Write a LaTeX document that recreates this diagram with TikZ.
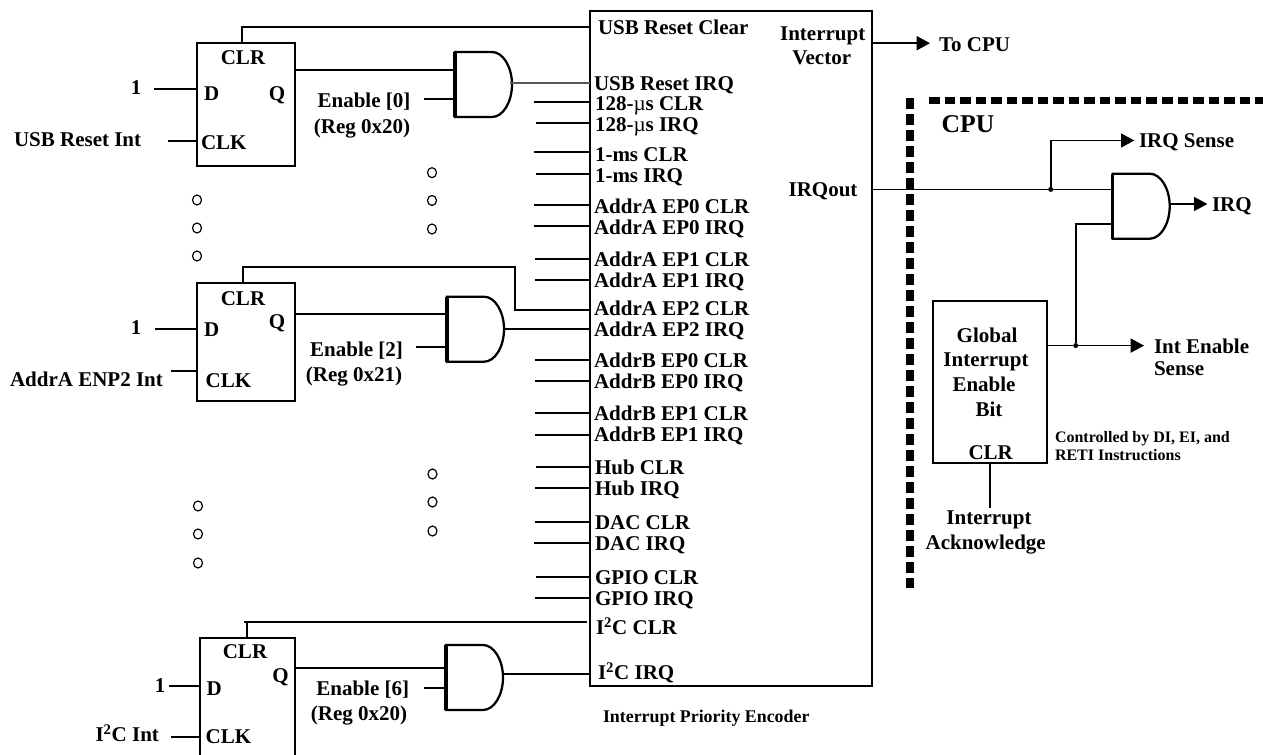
\documentclass[tikz,border=0pt]{standalone}
\usepackage{fontspec}
\setmainfont{Liberation Serif}
\usetikzlibrary{arrows.meta,calc,shapes.geometric}
\newdimen\px \px=.75pt
\newcommand{\andgate}[2]{% name, north-west corner; size 57 x 65
  \node[gatebox,anchor=north west] (#1) at #2 {};
  \draw[gateline] (#1.north west) -- ++(37,0)
    .. controls +(11,0) and +(0,-17.6) .. (#1.east)
    .. controls +(0,17.6) and +(11,0) .. ($(#1.south east)+(-20,0)$)
    -- (#1.south west) -- cycle;
  \draw[gatebar] (#1.north west) -- (#1.south west);
}
\tikzset{
  wire/.style={line width=1.5pt,black},
  thinwire/.style={line width=1.3pt,black},
  greywire/.style={line width=.9pt,black!65},
  arrowwire/.style={line width=1.3pt,black,-{Triangle[length=10pt,width=10.5pt]}},
  box/.style={draw=black,line width=1.5pt,inner sep=0,outer sep=0,anchor=north west},
  gatebox/.style={inner sep=0,outer sep=0,minimum width=57\px,minimum height=65\px},
  gateline/.style={draw=black,line width=1.7pt,line join=miter},
  gatebar/.style={draw=black,line width=2.4pt},
  txt/.style={inner sep=0,outer sep=0,text height=10.6pt,text depth=0pt,font=\bfseries\fontsize{15.75pt}{18pt}\selectfont},
  smalltxt/.style={inner sep=0,outer sep=0,text height=8.1pt,text depth=0pt,font=\bfseries\fontsize{12pt}{14pt}\selectfont},
  bigtxt/.style={inner sep=0,outer sep=0,text height=13pt,text depth=0pt,font=\bfseries\fontsize{19.2pt}{22pt}\selectfont},
  captxt/.style={inner sep=0,outer sep=0,text height=9.1pt,text depth=0pt,font=\bfseries\fontsize{13.4pt}{16pt}\selectfont},
  dotmark/.style={draw=black,line width=.9pt,fill=white,ellipse,inner sep=0,minimum width=9\px,minimum height=10\px},
  junction/.style={circle,fill=black,inner sep=0,minimum size=5\px},
  cpuvert/.style={line width=6pt,black,dash pattern=on 8pt off 4pt},
  cpuhoriz/.style={line width=5.25pt,black,dash pattern=on 7.9pt off 3.75pt},
}
\begin{document}
\begin{tikzpicture}[x=.75pt,y=-.75pt]
\clip (0,0) rectangle (1263,755);
\path[use as bounding box] (0,0) rectangle (1263,755);
\fill[white] (0,0) rectangle (1263,755);

% main encoder
\node[box,minimum width=282\px,minimum height=675\px] (main) at (590,11) {};

% flip-flops
\node[box,minimum width=98\px,minimum height=122.6\px] (ff1) at (197,43) {};
\node[box,minimum width=98\px,minimum height=118\px] (ff2) at (197,283) {};
\node[box,minimum width=95\px,minimum height=140\px] (ff3) at (199.7,637.7) {};

% AND gates
\andgate{and1}{(455,52)}
\andgate{and2}{(447,296.7)}
\andgate{and3}{(446,645)}
\andgate{and4}{(1112.7,173.7)}

% Global interrupt box
\node[box,minimum width=114.3\px,minimum height=162\px] (gie) at (932.7,301) {};

% encoder rows with free stubs
\foreach \nm/\lx/\ty/\sx/\wy/\lab in {
  a/595/103/534/101.7/128-{\mdseries µ}s CLR,
  b/595/124/536/122.7/128-{\mdseries µ}s IRQ,
  c/595/154/534/152/1-ms CLR,
  d/595/175/536/173.7/1-ms IRQ,
  e/594/206/534/204.7/AddrA EP0 CLR,
  f/594/227/534/225.7/AddrA EP0 IRQ,
  g/594/259/535/258.7/AddrA EP1 CLR,
  h/594/280/535/280/AddrA EP1 IRQ,
  i/594/360/535/360/AddrB EP0 CLR,
  j/594/381/535/381/AddrB EP0 IRQ,
  k/594/413/535/413/AddrB EP1 CLR,
  l/594/434/535/434.7/AddrB EP1 IRQ,
  m/595/467/536/467/Hub CLR,
  n/595/488/535/488/Hub IRQ,
  o/595/522/535/522/DAC CLR,
  p/595/543/534/543/DAC IRQ,
  q/595/577/536/577/GPIO CLR,
  r/595/598/535/598/GPIO IRQ}{
  \coordinate (stub\nm) at (\sx,\wy);
  \node[txt,anchor=west] (lab\nm) at (\lx,\ty) {\lab};
  \draw[wire] (stub\nm) -- (stub\nm -| main.west);
}
\node[txt,anchor=west] (labrc) at (598,27) {USB Reset Clear};
\node[txt,anchor=west] (labri) at (594,83) {USB Reset IRQ};
\node[txt,anchor=west] (labe2c) at (594,308) {AddrA EP2 CLR};
\node[txt,anchor=west] (labe2i) at (594,329) {AddrA EP2 IRQ};
\node[txt,anchor=west] (labi2c) at (596,627) {I\textsuperscript{2}C CLR};
\node[txt,anchor=west] (labi2i) at (598,672) {I\textsuperscript{2}C IRQ};
\node[txt] (intv1) at (822.7,33) {Interrupt};
\node[txt] (intv2) at (821.7,57) {Vector};
\node[txt] (irqout) at (823,189) {IRQout};
\node[captxt,anchor=west] (ipe) at (603,716) {Interrupt Priority Encoder};

% FF1 texts and wiring
\node[txt] (f1clr) at (243,57) {CLR};
\node[txt,anchor=west] (f1d) at (204,93) {D};
\node[txt] (f1q) at (277,93) {Q};
\node[txt,anchor=west] (f1clk) at (201,142) {CLK};
\node[txt] (one1) at (136,87) {1};
\node[txt,anchor=west] (usbint) at (14,139) {USB Reset Int};
\node[txt] (en0) at (364,100) {Enable [0]};
\node[txt] (rg0) at (362,126) {(Reg 0x20)};
\coordinate (d1) at (154,89);
\coordinate (k1) at (168,141);
\coordinate (e1) at (424,99.3);
\coordinate (c1) at (241.6,26.7);
\coordinate (q1) at (295,69.7);
\coordinate (o1) at (510,83);
\draw[wire] (d1) -- (d1 -| ff1.west);
\draw[wire] (k1) -- (k1 -| ff1.west);
\draw[wire] (e1) -- (e1 -| and1.west);
\draw[wire] (c1 |- ff1.north) -- (c1) -- (c1 -| main.west);
\draw[wire] (q1 -| ff1.east) -- (q1 -| and1.west);
\draw[greywire] (o1) -- (o1 -| main.west);

% FF2
\node[txt] (f2clr) at (243,298) {CLR};
\node[txt] (f2q) at (277,321.7) {Q};
\node[txt,anchor=west] (f2d) at (204,329) {D};
\node[txt,anchor=west] (f2clk) at (205.6,380) {CLK};
\node[txt] (one2) at (136,327) {1};
\node[txt,anchor=west] (ainT) at (10,379) {AddrA ENP2 Int};
\node[txt] (en2) at (356.6,349) {Enable [2]};
\node[txt] (rg2) at (354,374) {(Reg 0x21)};
\coordinate (d2) at (155,329);
\coordinate (k2) at (171,371.3);
\coordinate (e2) at (416,346.7);
\coordinate (c2a) at (242.8,267.3);
\coordinate (c2b) at (515,310);
\coordinate (q2) at (295,313.7);
\coordinate (o2) at (503,328.7);
\draw[wire] (d2) -- (d2 -| ff2.west);
\draw[wire] (k2) -- (k2 -| ff2.west);
\draw[wire] (e2) -- (e2 -| and2.west);
\draw[wire] (c2a |- ff2.north) -- (c2a) -- (c2a -| c2b) -- (c2b) -- (c2b -| main.west);
\draw[wire] (q2 -| ff2.east) -- (q2 -| and2.west);
\draw[wire] (o2) -- (o2 -| main.west);

% FF3
\node[txt] (f3clr) at (245,651.7) {CLR};
\node[txt] (f3q) at (280.5,675) {Q};
\node[txt,anchor=west] (f3d) at (206.6,688.7) {D};
\node[txt,anchor=west] (f3clk) at (205.7,736.7) {CLK};
\node[txt] (one3) at (160,685) {1};
\node[txt,anchor=west] (iint) at (95.5,734) {I\textsuperscript{2}C Int};
\node[txt] (en6) at (362.7,688) {Enable [6]};
\node[txt] (rg6) at (359,713) {(Reg 0x20)};
\coordinate (d3) at (169.4,685.7);
\coordinate (k3) at (171,737);
\coordinate (e3) at (424,687.7);
\coordinate (c3a) at (244,621.7);
\coordinate (c3b) at (247,621.7);
\coordinate (c3e) at (587,621.7);
\coordinate (q3) at (295,667.7);
\coordinate (o3) at (502,674);
\draw[wire] (d3) -- (d3 -| ff3.west);
\draw[wire] (k3) -- (k3 -| ff3.west);
\draw[wire] (e3) -- (e3 -| and3.west);
\draw[wire] (c3a) -- (c3e);
\draw[wire] (c3b) -- (c3b |- ff3.north);
\draw[wire] (q3 -| ff3.east) -- (q3 -| and3.west);
\draw[wire] (o3) -- (o3 -| main.west);

% ellipsis dots
\foreach \n/\x/\y in {a/197/200,b/197/228,c/197/256,d/432/172.7,e/432/200.5,f/432/229,g/432.5/474,h/432.5/502,i/432.5/531,j/198/506,k/198/534,l/198/563}{
  \node[dotmark] (dot\n) at (\x,\y) {};
}

% CPU boundary
\coordinate (cpuv1) at (910,98);
\coordinate (cpuv2) at (910,588);
\coordinate (cpuh1) at (929,100.7);
\coordinate (cpuh2) at (1270,100.7);
\draw[cpuvert] (cpuv1) -- (cpuv2);
\draw[cpuhoriz] (cpuh1) -- (cpuh2);
\node[bigtxt] (cpu) at (968,124) {CPU};

% right side
\node[txt,anchor=west] (tocpu) at (939,44) {To CPU};
\coordinate (tv) at (872,43.2);
\coordinate (tvend) at (930,43.2);
\draw[arrowwire] (tv) -- (tvend);

\coordinate (irqline) at (872,189.4);
\coordinate (jn1pos) at (1050.7,189.4);
\node[junction] (jn1) at (jn1pos) {};
\draw[thinwire] (irqline) -- (irqline -| and4.west);
\node[txt,anchor=west] (irqs) at (1139,140.5) {IRQ Sense};
\coordinate (irqsup) at (1050.7,140.5);
\draw[thinwire] (jn1) -- (irqsup);
\draw[arrowwire] (irqsup) -- ([xshift=-3.5pt]irqs.west);
\node[txt,anchor=west] (irq) at (1212,204.7) {IRQ};
\coordinate (o4) at (1169,204);
\draw[arrowwire] (o4) -- ([xshift=-3.5pt]o4 -| irq.west);

\coordinate (en4) at (1075.7,224);
\coordinate (jn2pos) at (1075.7,345.6);
\node[junction] (jn2) at (jn2pos) {};
\draw[thinwire] (en4 -| and4.west) -- (en4) -- (jn2);
\node[txt,anchor=west] (ies1) at (1154,346) {Int Enable};
\node[txt,anchor=west] (ies2) at (1154,368.5) {Sense};
\coordinate (ieend) at (1144,345.6);
\draw[thinwire] (jn2pos -| gie.east) -- (jn2);
\draw[arrowwire] (jn2) -- (ieend);

\node[txt] (g1) at (987,335.6) {Global};
\node[txt] (g2) at (986,359.7) {Interrupt};
\node[txt] (g3) at (984,384) {Enable};
\node[txt] (g4) at (989,409) {Bit};
\node[txt] (g5) at (990.7,452) {CLR};
\node[smalltxt,anchor=west] (ctl1) at (1055,436.7) {Controlled by DI, EI, and};
\node[smalltxt,anchor=west] (ctl2) at (1055,454.6) {RETI Instructions};
\node[txt] (ack1) at (989,517) {Interrupt};
\node[txt] (ack2) at (985.7,542) {Acknowledge};
\coordinate (ackc) at (989.7,508);
\draw[wire] (ackc |- gie.south) -- (ackc);
\end{tikzpicture}
\end{document}
